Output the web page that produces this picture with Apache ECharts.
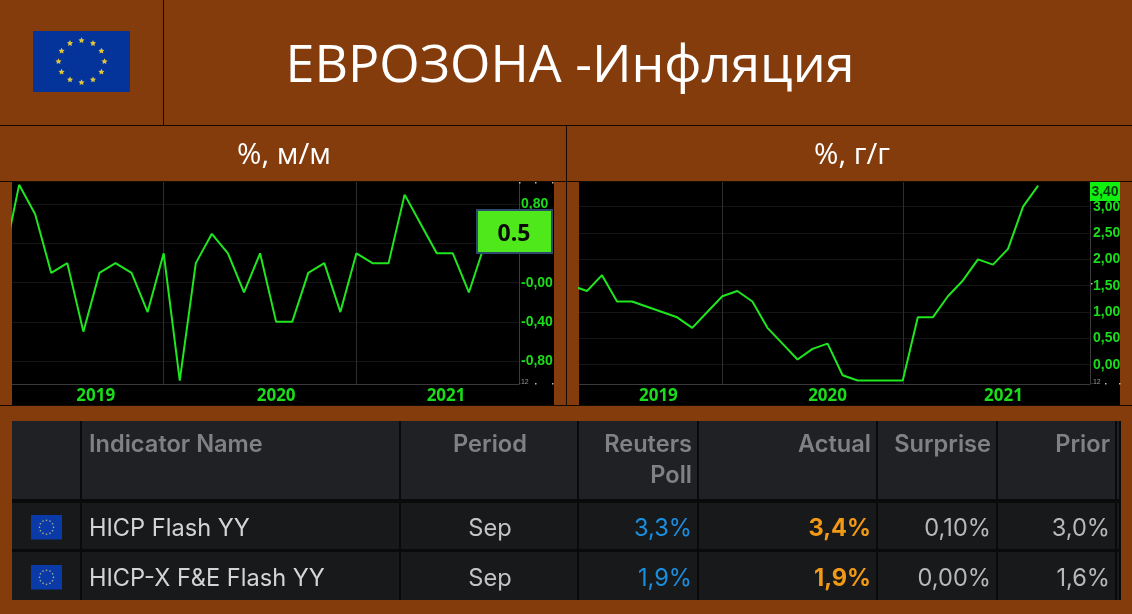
<!DOCTYPE html>
<html>
<head>
<meta charset="utf-8">
<style>
html, body { margin: 0; padding: 0; background: #843c0c; }
#chart { width: 1132px; height: 614px; }
</style>
<script src="https://cdn.jsdelivr.net/npm/echarts@6/dist/echarts.min.js"></script>
</head>
<body>
<div id="chart"></div>
<script>
// months run Feb 2019 .. Sep 2021, x axis is the month index
const months = ['2019-02','2019-03','2019-04','2019-05','2019-06','2019-07','2019-08','2019-09','2019-10','2019-11','2019-12',
  '2020-01','2020-02','2020-03','2020-04','2020-05','2020-06','2020-07','2020-08','2020-09','2020-10','2020-11','2020-12',
  '2021-01','2021-02','2021-03','2021-04','2021-05','2021-06','2021-07','2021-08','2021-09'];
const momValues = [0.2,1.0,0.7,0.1,0.2,-0.5,0.1,0.2,0.1,-0.3,0.3,-1.0,0.2,0.5,0.3,-0.1,0.3,-0.4,-0.4,0.1,0.2,-0.3,0.3,0.2,0.2,0.9,0.6,0.3,0.3,-0.1,0.4,0.5];
const yoyValues = [1.5,1.4,1.7,1.2,1.2,1.1,1.0,0.9,0.7,1.0,1.3,1.4,1.2,0.7,0.4,0.1,0.3,0.4,-0.2,-0.3,-0.3,-0.3,-0.3,0.9,0.9,1.3,1.6,2.0,1.9,2.2,3.0,3.4];
const momTicks = [-0.8,-0.4,0,0.4,0.8];
const yoyTicks = [0,0.5,1,1.5,2,2.5,3];
const yearNames = ['2019','2020','2021'];
const momYearAt = [5.77,17,27.58];
const yoyYearAt = [5.75,17,28.7];
const yearLines = [10,22];

const tableHeaders = ['Indicator Name','Period','Reuters','Poll','Actual','Surprise','Prior'];
const indicators = ['HICP Flash YY','HICP-X F&E Flash YY'];
const periods = ['Sep','Sep'];
const polls = ['3,3%','1,9%'];
const actuals = ['3,4%','1,9%'];
const surprises = ['0,10%','0,00%'];
const priors = ['3,0%','1,6%'];

const BROWN = '#843c0c';
const GREEN = '#1fe61f';
const LABEL_GREEN = '#1bdc1b';
const FONT = '"Open Sans", sans-serif';
const TABLE_FONT = 'Inter, "Open Sans", sans-serif';

function rect(x, y, w, h, fill, z, extra) {
  return Object.assign({type: 'rect', z: z, silent: true, shape: {x: x, y: y, width: w, height: h}, style: {fill: fill}}, extra || {});
}
function label(x, y, text, font, fill, align, z) {
  return {type: 'text', z: z || 20, silent: true, x: x, y: y,
    style: {text: text, font: font, fill: fill, align: align || 'left', verticalAlign: 'middle'}};
}
function star(cx, cy, r, fill) {
  const pts = [];
  for (let i = 0; i < 10; i++) {
    const a = -Math.PI / 2 + i * Math.PI / 5;
    const q = i % 2 ? r * 0.5 : r;
    pts.push([cx + q * Math.cos(a), cy + q * Math.sin(a)]);
  }
  return {type: 'polygon', z: 20, silent: true, shape: {points: pts}, style: {fill: fill}};
}
function flag(x, y, w, h, fill, rx, ry, sr, color) {
  const out = [rect(x, y, w, h, fill, 10)];
  for (let i = 0; i < 12; i++) {
    const a = i * Math.PI / 6;
    out.push(star(x + w / 2 + rx * Math.sin(a), y + h / 2 - ry * Math.cos(a), sr, color));
  }
  return out;
}

const graphics = [];
// frame lines
graphics.push(rect(0, 125, 1132, 1, '#140a02', 5));
graphics.push(rect(163, 0, 1, 125, '#140a02', 5));
graphics.push(rect(0, 181, 1132, 1, '#140a02', 5));
graphics.push(rect(566, 125, 1, 280, '#140a02', 5));
graphics.push(rect(0, 405, 1132, 1, '#140a02', 5));
// black chart panels
graphics.push(rect(12, 182, 542, 223, '#000000', -10));
graphics.push(rect(579, 182, 541, 223, '#000000', -10));

graphics.push(...flag(33, 31, 97, 61, '#04339a', 23, 21, 3.2, '#e0c63f'));
graphics.push(label(570, 67, 'ЕВРОЗОНА -Инфляция', '52px ' + FONT, '#ffffff', 'center'));
graphics.push(label(284, 156, '%, м/м', '29.5px ' + FONT, '#ffffff', 'center'));
graphics.push(label(852, 156, '%, г/г', '29.5px ' + FONT, '#ffffff', 'center'));

// last value tags
graphics.push(rect(477, 210, 75, 43, '#4fe81a', 30, {style: {fill: '#4fe81a', stroke: '#2b4a6e', lineWidth: 2}}));
graphics.push(label(514, 234, String(momValues[momValues.length - 1]), 'bold 23px ' + FONT, '#0a0a0a', 'center', 31));
graphics.push(rect(1090, 182, 30, 19, '#10f010', 30));
graphics.push(label(1105, 192, yoyValues[yoyValues.length - 1].toFixed(2).replace('.', ','), 'bold 14px "Liberation Sans"', '#0a3a0a', 'center', 31));

// tiny marks on the axis corners
[[519, 182], [535, 182], [552, 182], [535, 383], [552, 383], [1105, 383], [1119, 383], [1091, 283]].forEach(p => {
  graphics.push(rect(p[0], p[1], 1.5, 1.5, '#bbbbbb', 25));
});
graphics.push(label(519, 382, '.12', '7px "Liberation Sans"', '#999999', 'left', 25));
graphics.push(label(1091, 382, '.12', '7px "Liberation Sans"', '#999999', 'left', 25));

// table
const colEdges = [12, 82, 401, 579, 699, 878, 998, 1117, 1121];
const rowEdges = [[421, 499, '#202124'], [503, 549, '#18191b'], [552, 600, '#18191b']];
graphics.push(rect(12, 421, 1109, 179, '#0a0a0b', 5));
rowEdges.forEach(r => {
  for (let c = 0; c < colEdges.length - 1; c++) {
    graphics.push(rect(colEdges[c], r[0], colEdges[c + 1] - colEdges[c] - 2, r[1] - r[0], r[2], 6));
  }
});
const headFont = '600 23.6px ' + TABLE_FONT;
const headColor = '#808184';
graphics.push(label(89, 445, tableHeaders[0], headFont, headColor));
graphics.push(label(490, 445, tableHeaders[1], headFont, headColor, 'center'));
graphics.push(label(692, 445, tableHeaders[2], headFont, headColor, 'right'));
graphics.push(label(692, 476, tableHeaders[3], headFont, headColor, 'right'));
graphics.push(label(871, 445, tableHeaders[4], headFont, headColor, 'right'));
graphics.push(label(991, 445, tableHeaders[5], headFont, headColor, 'right'));
graphics.push(label(1110, 445, tableHeaders[6], headFont, headColor, 'right'));

const rowFont = '23.6px ' + TABLE_FONT;
[528, 578].forEach((y, i) => {
  graphics.push(...flag(31, y - 13, 31, 24.5, '#0a3aa8', 7, 7, 1.1, '#b8b98a'));
  graphics.push(label(89, y + 1, indicators[i], rowFont, '#d4d4d6'));
  graphics.push(label(490, y + 1, periods[i], rowFont, '#c4c4c6', 'center'));
  graphics.push(label(692, y + 1, polls[i], rowFont, '#1a8fe0', 'right'));
  graphics.push(label(871, y + 1, actuals[i], 'bold 23.6px ' + TABLE_FONT, '#f29a16', 'right'));
  graphics.push(label(991, y + 1, surprises[i], rowFont, '#b8b8ba', 'right'));
  graphics.push(label(1110, y + 1, priors[i], rowFont, '#b8b8ba', 'right'));
});

function makeX(gridIndex, min, max, yearAt) {
  return {
    type: 'value', gridIndex: gridIndex, min: min, max: max, position: 'bottom',
    axisLine: {onZero: false, lineStyle: {color: '#3a3a3a', width: 1}},
    axisTick: {show: false, customValues: yearLines},
    splitLine: {show: true, lineStyle: {color: '#2e2e2e', width: 1}},
    axisLabel: {
      customValues: yearAt, margin: 4,
      color: LABEL_GREEN, fontFamily: 'Open Sans', fontWeight: 'bold', fontSize: 17,
      formatter: v => yearNames[yearAt.indexOf(v)]
    }
  };
}
function makeY(gridIndex, min, max, ticks, fmt, margin) {
  return {
    type: 'value', gridIndex: gridIndex, min: min, max: max, position: 'right',
    axisLine: {show: true, onZero: false, lineStyle: {color: '#3a3a3a', width: 1}},
    axisTick: {show: false, customValues: ticks},
    splitLine: {show: true, lineStyle: {color: '#151515', width: 1}},
    axisLabel: {
      customValues: ticks, margin: margin, hideOverlap: false,
      color: LABEL_GREEN, fontFamily: 'Liberation Sans', fontWeight: 'bold', fontSize: 14,
      formatter: fmt
    }
  };
}
const commaFmt = v => v.toFixed(2).replace('.', ',');
const momFmt = v => (v <= 0 ? '-' : '') + commaFmt(Math.abs(v));

function lineSeries(idx, values) {
  return {
    type: 'line', xAxisIndex: idx, yAxisIndex: idx, showSymbol: false, silent: true,
    clip: true, data: months.map((m, i) => [i, values[i]]),
    lineStyle: {color: GREEN, width: 2}, itemStyle: {color: GREEN}
  };
}

const chart = echarts.init(document.getElementById('chart'));
chart.setOption({
  animation: false,
  backgroundColor: BROWN,
  tooltip: {show: false},
  grid: [
    {left: 12, top: 182, width: 507, height: 202},
    {left: 579, top: 182, width: 511, height: 202}
  ],
  xAxis: [makeX(0, 0.557, 32.12, momYearAt), makeX(1, 0.47, 34.45, yoyYearAt)],
  yAxis: [makeY(0, -1.035, 1.029, momTicks, momFmt, 2), makeY(1, -0.366, 3.469, yoyTicks, commaFmt, 3)],
  series: [lineSeries(0, momValues), lineSeries(1, yoyValues)],
  graphic: {elements: graphics}
});
</script>
</body>
</html>
